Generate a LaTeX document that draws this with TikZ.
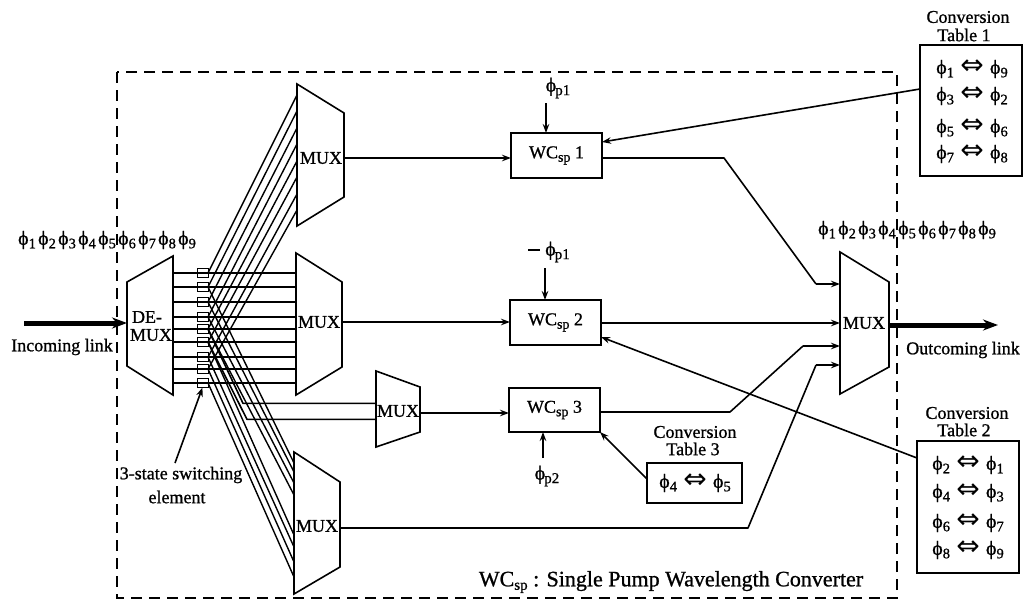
\documentclass[tikz,border=0pt]{standalone}
\usepackage{fontspec}
\setmainfont{Liberation Serif}[RawFeature={embolden=1}]
\newfontfamily\dvu{DejaVu Sans}
\usetikzlibrary{arrows.meta}
\newcommand\lo[2][12]{\raisebox{-3.5pt}{\fontsize{#1}{#1}\selectfont #2}}
\newcommand\ph[1]{{\fontsize{20}{20}\selectfont ϕ}\lo[14.5]{#1}}
\newcommand\cell[1]{\makebox[20pt][c]{\ph{#1}}}
\newcommand\dbl{\smash{\raisebox{-0.5pt}{\makebox[36pt][c]{\dvu\fontsize{28}{28}\selectfont ⇔}}}}
\newcommand\rowtxt[2]{\ph{#1}\dbl\ph{#2}}
\newcommand\philine{\cell{1}\cell{2}\cell{3}\cell{4}\cell{5}\cell{6}\cell{7}\cell{8}\cell{9}}
\tikzset{
  x=1pt,y=-1pt,
  every node/.style={inner sep=0pt,outer sep=0pt},
  wire/.style={line width=1.6pt,line join=round},
  thin wire/.style={line width=1.4pt},
  arr/.style={wire,-{Stealth[length=9pt,width=6.5pt]}},
  bigarr/.style={line width=5pt,-{Stealth[length=15pt,width=11pt]}},
  muxshape/.style={line width=1.6pt,line join=miter},
  boxed/.style={draw,line width=1.8pt,minimum width=#1},
  lab/.style={font=\fontsize{18}{18}\selectfont},
  swbox/.style={draw,line width=1pt,minimum width=11pt,minimum height=9pt},
}
\begin{document}
\begin{tikzpicture}
\useasboundingbox (0,0) rectangle (1024,602);
\fill[white] (0,0) rectangle (1024,602);
% dashed frame
\draw[line width=1.7pt,dash pattern=on 11pt off 7pt] (117,72) rectangle (897,598);

% line end points
\foreach \k/\yy in {1/273,2/287,3/302,4/317,5/329,6/342,7/357,8/369,9/383}{
  \coordinate (dm\k) at (173,\yy);
  \coordinate (sw\k) at (208,\yy);
  \coordinate (mb\k) at (296,\yy);
}
\foreach \k/\yy in {1/95,2/111,3/128,4/144,5/161,6/177,7/194,8/210}{
  \coordinate (mta\k) at (297,\yy);
}
\foreach \k/\yy in {2/463,3/472,4/483,5/495,6/535,7/547,8/562,9/577}{
  \coordinate (mc\k) at (294,\yy);
}

% fans
\foreach \k in {1,...,8}{ \draw[thin wire] (sw\k) -- (mta\k); }
\foreach \k in {2,...,9}{ \draw[thin wire] (sw\k) -- (mc\k); }
\foreach \k in {1,...,9}{ \draw[wire] (dm\k) -- (mb\k); }
\foreach \k/\yy in {1/273,2/287,3/302,4/317,5/329,6/342,7/357,8/369,9/383}{
  \node[swbox] (sx\k) at (202.5,\yy) {};
}

% mux shapes
\coordinate (b1) at (243,403.4); \coordinate (b2) at (247,419.4);
\coordinate (m3a) at (376,403.4); \coordinate (m3b) at (376,419.4);
\draw[wire] (sw5) -- (b1) -- (m3a);
\draw[wire] (sw6) -- (b2) -- (m3b);

\draw[muxshape] (127,282) -- (173,256) -- (173,395) -- (127,366) -- cycle;
\draw[muxshape] (297,84) -- (344,113) -- (344,197) -- (297,226) -- cycle;
\draw[muxshape] (296,253) -- (342,282) -- (342,367) -- (296,395) -- cycle;
\draw[muxshape] (376,371) -- (420,387) -- (420,432) -- (376,447) -- cycle;
\draw[muxshape] (294,452) -- (340,482) -- (340,567) -- (294,594) -- cycle;
\draw[muxshape] (840,252) -- (889,282) -- (889,367) -- (840,394) -- cycle;

\node[lab] (demuxA) at (147,317) {DE-};
\node[lab] (demuxB) at (151,335) {MUX};
\node[lab] (mxa) at (321,158) {MUX};
\node[lab] (mxb) at (319,322) {MUX};
\node[lab] (mxc) at (398,411) {MUX};
\node[lab] (mxd) at (317,526) {MUX};
\node[lab] (mxe) at (864,323) {MUX};

% converters
\node[boxed=91pt,minimum height=45pt,lab] (wc1) at (556.5,155.5) {WC\lo[14]{sp} 1};
\node[boxed=91pt,minimum height=45pt,lab] (wc2) at (555.5,322.5) {WC\lo[14]{sp} 2};
\node[boxed=91pt,minimum height=44pt,lab] (wc3) at (554.5,410) {WC\lo[14]{sp} 3};

% inputs to converters
\coordinate (o1) at (344,158); \coordinate (o2) at (342,322);
\coordinate (o3) at (420,413); \coordinate (o4) at (340,528);
\draw[arr] (o1) -- (o1 -| wc1.west);
\draw[arr] (o2) -- (o2 -| wc2.west);
\draw[arr] (o3) -- (o3 -| wc3.west);

% pump signals
\node (p1) at (558,88) {\ph{}\hspace{-1pt}\lo[15]{p1}};
\node (p2) at (549,252) {\rule[5pt]{12pt}{1.6pt}\hspace{5pt}\ph{}\hspace{-1pt}\lo[15]{p1}};
\node (p3) at (547,476) {\ph{}\hspace{-1pt}\lo[15]{p2}};
\coordinate (p1e) at (546,103); \coordinate (p2e) at (545,268); \coordinate (p3e) at (543,458);
\draw[arr] (p1e) -- (p1e |- wc1.north);
\draw[arr] (p2e) -- (p2e |- wc2.north);
\draw[arr] (p3e) -- (p3e |- wc3.south);

% output mux connections
\coordinate (i1) at (840,284); \coordinate (i2) at (840,323);
\coordinate (i3) at (840,346); \coordinate (i4) at (840,365);
\coordinate (k1a) at (724,158); \coordinate (k1b) at (816,284);
\coordinate (k3a) at (730,412); \coordinate (k3b) at (803,346);
\coordinate (k4a) at (748,528); \coordinate (k4b) at (816,365);
\draw[wire] (wc1.east |- k1a) -- (k1a) -- (k1b);
\draw[arr] (k1b) -- (i1);
\draw[arr] (wc2.east |- i2) -- (i2);
\draw[wire] (wc3.east |- k3a) -- (k3a) -- (k3b);
\draw[arr] (k3b) -- (i3);
\draw[wire] (o4) -- (k4a) -- (k4b);
\draw[arr] (k4b) -- (i4);

% links
\coordinate (inS) at (24,323); \coordinate (inE) at (127,323);
\coordinate (outS) at (889,325); \coordinate (outE) at (998,325);
\draw[bigarr] (inS) -- (inE);
\draw[bigarr] (outS) -- (outE);
\node[lab] (inl) at (62,347) {Incoming link};
\node[lab] (outl) at (963,350) {Outcoming link};
\node (lamL) at (107,240) {\philine};
\node (lamR) at (907,230) {\philine};

% switching label
\node[lab] (sl1) at (181,475) {3-state switching};
\node[lab] (sl2) at (177,497) {element};
\coordinate (slS) at (175,463);
\draw[arr] (slS) -- (sx9.south);

% conversion tables
\node[boxed=102pt,minimum height=131pt] (t1) at (971,110.5) {};
\node[boxed=102pt,minimum height=132pt] (t2) at (968,507) {};
\node[boxed=95pt,minimum height=40pt] (t3) at (694.5,483) {};
\node[lab] (t1a) at (968,17) {Conversion};
\node[lab] (t1b) at (964,35) {Table 1};
\node[lab] (t2a) at (967,413) {Conversion};
\node[lab] (t2b) at (964,430) {Table 2};
\node[lab] (t3a) at (695,432) {Conversion};
\node[lab] (t3b) at (693,449) {Table 3};
\node (r11) at (972,69) {\rowtxt{1}{9}};
\node (r12) at (972,96) {\rowtxt{3}{2}};
\node (r13) at (972,128) {\rowtxt{5}{6}};
\node (r14) at (972,154) {\rowtxt{7}{8}};
\node (r21) at (968,465) {\rowtxt{2}{1}};
\node (r22) at (968,493) {\rowtxt{4}{3}};
\node (r23) at (968,523) {\rowtxt{6}{7}};
\node (r24) at (968,550) {\rowtxt{8}{9}};
\node (r31) at (695,483) {\rowtxt{4}{5}};
\coordinate (t1o) at (t1.west |- 0,89); \coordinate (t2o) at (t2.west |- 0,458); \coordinate (t3o) at (t3.west |- 0,479);
\draw[arr] (t1o) -- (wc1.east |- 0,142);
\draw[arr] (t2o) -- (wc2.east |- 0,337);
\draw[arr] (t3o) -- (wc3.south east);

% legend
\node[font=\fontsize{22}{22}\selectfont] (leg) at (671,582) {WC\lo[15]{sp} : Single Pump Wavelength Converter};
\end{tikzpicture}
\end{document}
